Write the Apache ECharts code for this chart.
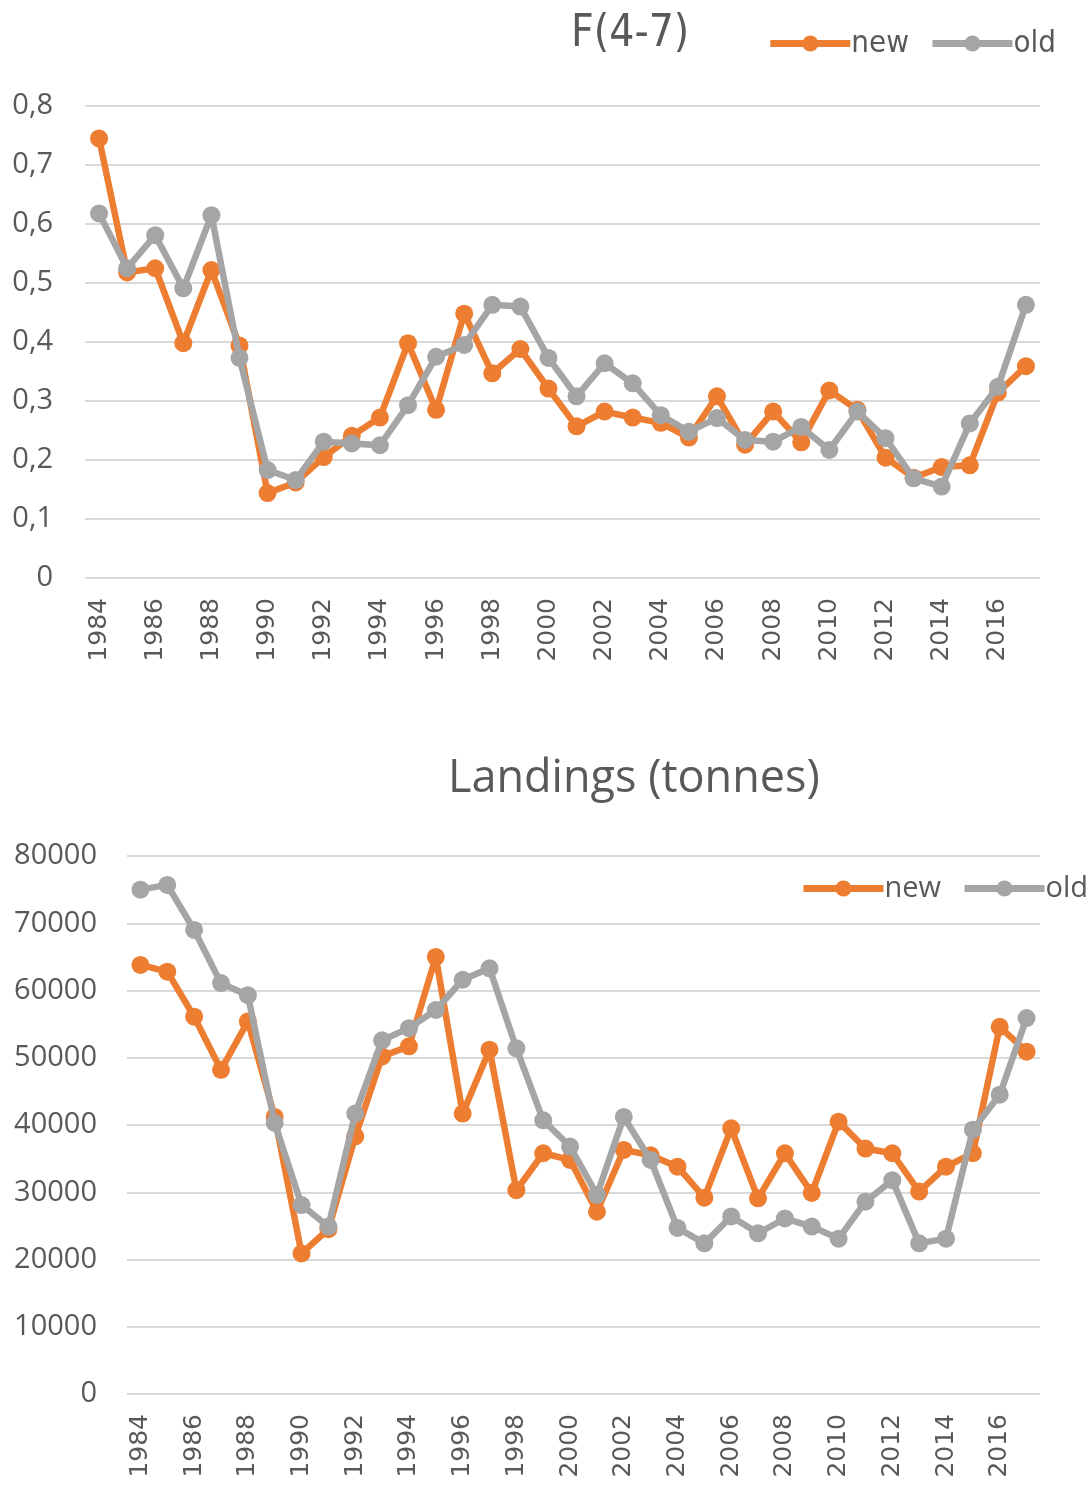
<!DOCTYPE html>
<html>
<head>
<meta charset="utf-8">
<script src="https://cdn.jsdelivr.net/npm/echarts@6/dist/echarts.min.js"></script>
<style>
  html, body { margin: 0; padding: 0; background: #fff; }
  #chart { width: 1092px; height: 1485px; }
</style>
</head>
<body>
<div id="chart"></div>
<script>
// years 1984-2017
const years = ['1984', '1985', '1986', '1987', '1988', '1989', '1990', '1991', '1992', '1993',
  '1994', '1995', '1996', '1997', '1998', '1999', '2000', '2001', '2002', '2003',
  '2004', '2005', '2006', '2007', '2008', '2009', '2010', '2011', '2012', '2013',
  '2014', '2015', '2016', '2017']

// F(4-7)
const fNew = [0.745, 0.518, 0.525, 0.398, 0.522, 0.394, 0.144, 0.162, 0.205, 0.241,
  0.272, 0.398, 0.285, 0.448, 0.347, 0.388, 0.321, 0.257, 0.282, 0.272,
  0.263, 0.238, 0.308, 0.226, 0.282, 0.230, 0.318, 0.285, 0.204, 0.170,
  0.188, 0.191, 0.314, 0.359]
const fOld = [0.618, 0.525, 0.581, 0.491, 0.615, 0.373, 0.183, 0.166, 0.231, 0.228,
  0.225, 0.293, 0.375, 0.395, 0.463, 0.460, 0.373, 0.308, 0.364, 0.330,
  0.276, 0.248, 0.271, 0.234, 0.231, 0.256, 0.217, 0.282, 0.237, 0.169,
  0.155, 0.262, 0.324, 0.463]

// Landings (tonnes)
const landNew = [63800, 62800, 56100, 48200, 55400, 41200, 20900, 24500, 38300, 50200,
  51700, 65000, 41700, 51200, 30300, 35800, 34800, 27100, 36300, 35500,
  33800, 29200, 39500, 29100, 35800, 29900, 40500, 36500, 35800, 30100,
  33800, 35800, 54600, 50900]
const landOld = [75000, 75700, 69000, 61100, 59300, 40300, 28100, 24900, 41700, 52600,
  54400, 57100, 61600, 63300, 51400, 40700, 36800, 29600, 41200, 34800,
  24700, 22400, 26400, 23900, 26100, 24900, 23100, 28600, 31800, 22400,
  23100, 39300, 44500, 55900]

const orange = '#ED7D31'
const grey = '#A5A5A5'
const textColor = '#595959'
const narrowFont = "'Liberation Sans Narrow', 'DejaVu Sans Condensed', 'Open Sans', sans-serif"

function lineSeries(name, data, color, idx) {
  return {
    name: name,
    type: 'line',
    xAxisIndex: idx,
    yAxisIndex: idx,
    data: data,
    symbol: 'circle',
    symbolSize: 18,
    showAllSymbol: true,
    lineStyle: { color: color, width: 6.5 },
    itemStyle: { color: color },
    z: name === 'old' ? 3 : 2
  }
}

function xAxisFor(idx) {
  return {
    type: 'category',
    gridIndex: idx,
    data: years,
    boundaryGap: true,
    axisLine: { show: false },
    axisTick: { show: false },
    axisLabel: {
      interval: 1,
      rotate: 90,
      margin: 20,
      color: textColor,
      fontFamily: 'DejaVu Sans',
      fontSize: 25
    }
  }
}

function legendFor(right, top, font, size) {
  return {
    data: ['new', 'old'],
    orient: 'horizontal',
    right: right,
    top: top,
    padding: 0,
    itemWidth: 80,
    itemHeight: 20,
    itemGap: 20,
    lineStyle: { width: 7 },
    textStyle: { color: textColor, fontFamily: font, fontSize: size, padding: [0, 0, 0, -4] }
  }
}

const chart = echarts.init(document.getElementById('chart'))
const option = {
  animation: false,
  backgroundColor: '#fff',
  title: [
    {
      text: 'F(4-7)',
      left: 566,
      top: 8,
      textStyle: { color: textColor, fontFamily: narrowFont, fontSize: 44, fontWeight: 'normal' }
    },
    {
      text: 'Landings (tonnes)',
      left: 443,
      top: 752,
      textStyle: { color: textColor, fontFamily: 'Open Sans', fontSize: 45, fontWeight: 'normal' }
    }
  ],
  legend: [
    legendFor(36, 28, narrowFont, 31),
    legendFor(4, 874, 'Open Sans', 29)
  ],
  grid: [
    { left: 85, right: 52, top: 106, height: 472 },
    { left: 127, right: 52, top: 856, height: 538 }
  ],
  xAxis: [xAxisFor(0), xAxisFor(1)],
  yAxis: [
    {
      type: 'value',
      gridIndex: 0,
      min: 0,
      max: 0.8,
      interval: 0.1,
      axisLine: { show: false },
      axisTick: { show: false },
      splitLine: { lineStyle: { color: '#D9D9D9', width: 2 } },
      axisLabel: {
        margin: 32,
        color: textColor,
        fontFamily: 'Open Sans',
        fontSize: 29,
        formatter: v => String(Math.round(v * 10) / 10).replace('.', ',')
      }
    },
    {
      type: 'value',
      gridIndex: 1,
      min: 0,
      max: 80000,
      interval: 10000,
      axisLine: { show: false },
      axisTick: { show: false },
      splitLine: { lineStyle: { color: '#D9D9D9', width: 2 } },
      axisLabel: {
        margin: 30,
        color: textColor,
        fontFamily: 'Open Sans',
        fontSize: 29,
        formatter: v => String(v)
      }
    }
  ],
  series: [
    lineSeries('new', fNew, orange, 0),
    lineSeries('old', fOld, grey, 0),
    lineSeries('new', landNew, orange, 1),
    lineSeries('old', landOld, grey, 1)
  ]
}
chart.setOption(option)
</script>
</body>
</html>
